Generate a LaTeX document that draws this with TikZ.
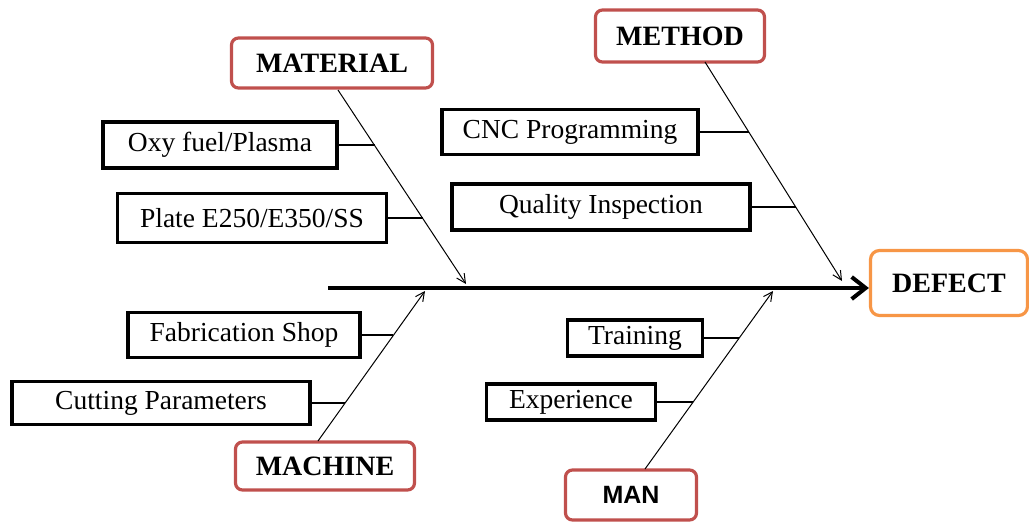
\documentclass[tikz,border=0pt]{standalone}
\usepackage{fontspec}
\setmainfont{Liberation Serif}
\newfontfamily\mansf{Liberation Sans}
\usetikzlibrary{arrows.meta}
\definecolor{catred}{RGB}{192,80,77}
\definecolor{efforange}{RGB}{247,150,70}
\tikzset{
  cause/.style={draw=catred,line width=3.2pt,rounded corners=7pt,fill=white,
    inner sep=0pt,font=\fontsize{28}{30}\selectfont\bfseries},
  factor/.style={draw=black,line width=3.5pt,fill=white,inner sep=0pt,
    font=\fontsize{27.5}{30}\selectfont},
  effect/.style={draw=efforange,line width=3.2pt,rounded corners=9pt,fill=white,
    inner sep=0pt,font=\fontsize{28}{30}\selectfont\bfseries},
  bone/.style={line width=1pt,-{Straight Barb[length=9pt,width=9pt]}},
  twig/.style={line width=1.2pt}
}

\begin{document}
\begin{tikzpicture}[x=1pt,y=-1pt]
\useasboundingbox (0,0) rectangle (1029,523);
% head and categories
\node[effect,minimum width=157,minimum height=65] (dft) at (949,283) {DEFECT};
\node[cause,minimum width=201,minimum height=50] (mat) at (332,63) {MATERIAL};
\node[cause,minimum width=169,minimum height=52] (mth) at (680,36) {METHOD};
\node[cause,minimum width=179,minimum height=48] (mch) at (325,466) {MACHINE};
\node[cause,minimum width=131,minimum height=50,font=\fontsize{25}{28}\mansf\bfseries] (man) at (631,495) {MAN};
% causes
\node[factor,minimum width=234,minimum height=46] (oxy) at (220,145) {Oxy fuel/Plasma};
\node[factor,minimum width=269,minimum height=49] (plt) at (252,218) {Plate E250/E350/SS};
\node[factor,minimum width=256,minimum height=45] (cnc) at (570,132) {CNC Programming};
\node[factor,minimum width=298,minimum height=46] (qin) at (601,207) {Quality Inspection};
\node[factor,minimum width=232,minimum height=45] (fab) at (244,335) {Fabrication Shop};
\node[factor,minimum width=298,minimum height=43] (cut) at (161,403) {Cutting Parameters};
\node[factor,minimum width=135,minimum height=36] (trn) at (635,338) {Training};
\node[factor,minimum width=169,minimum height=36] (exp) at (571,402) {Experience};
% spine
\coordinate (tail) at (328,288);
\draw[line width=4pt,-{Straight Barb[length=14pt,width=22pt,line width=4pt]}] (tail) -- (tail -| dft.west);
% bones
\coordinate (matA) at (338,90);  \coordinate (matB) at (466,284);
\coordinate (mthA) at (705,62);  \coordinate (mthB) at (842,281);
\coordinate (mchA) at (318,441); \coordinate (mchB) at (425,291);
\coordinate (manA) at (645,469); \coordinate (manB) at (773,291);
\draw[bone] (matA) -- (matB);
\draw[bone] (mthA) -- (mthB);
\draw[bone] (mchA) -- (mchB);
\draw[bone] (manA) -- (manB);
% twigs
\coordinate (j1) at (375,145); \coordinate (j2) at (423,218);
\coordinate (j3) at (749,132); \coordinate (j4) at (796,207);
\coordinate (j5) at (393,335); \coordinate (j6) at (345,403);
\coordinate (j7) at (739,338); \coordinate (j8) at (693,402);
\draw[twig] (oxy.east) -- (j1) (plt.east) -- (j2)
            (cnc.east) -- (j3) (qin.east) -- (j4)
            (fab.east) -- (j5) (cut.east) -- (j6)
            (trn.east) -- (j7) (exp.east) -- (j8);
\end{tikzpicture}
\end{document}
